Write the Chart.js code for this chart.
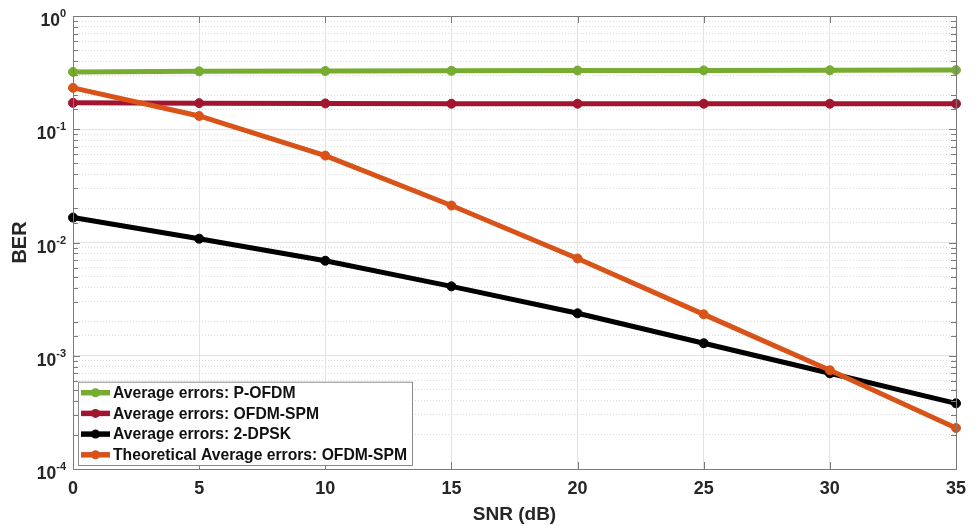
<!DOCTYPE html>
<html>
<head>
<meta charset="utf-8">
<script src="https://cdn.jsdelivr.net/npm/chart.js@4.4.1/dist/chart.umd.min.js"></script>
<style>
  html, body { margin: 0; padding: 0; background: #fff; }
  #wrap { width: 977px; height: 526px; position: relative; }
</style>
</head>
<body>
<div id="wrap"><canvas id="berChart"></canvas></div>
<script>
// values
const snrDb = [0, 5, 10, 15, 20, 25, 30, 35];
const berPOfdm = [0.321, 0.325, 0.327, 0.328, 0.330, 0.331, 0.332, 0.333];
const berOfdmSpm = [0.171, 0.170, 0.169, 0.168, 0.168, 0.168, 0.168, 0.168];
const ber2Dpsk = [0.0166, 0.0108, 0.0069, 0.0041, 0.00237, 0.00129, 0.0007, 0.00038];
const berTheory = [0.232, 0.131, 0.0585, 0.0212, 0.00723, 0.00232, 0.000745, 0.00023];

const seriesLabels = [
  "Average errors: P-OFDM",
  "Average errors: OFDM-SPM",
  "Average errors: 2-DPSK",
  "Theoretical Average errors: OFDM-SPM"
];
const decadeExponents = [0, -1, -2, -3, -4];

const FONT = "'Liberation Sans', Arial, Helvetica, sans-serif";
const AXIS_COLOR = "#7a7a7a";

function points(ys) {
  return snrDb.map((x, i) => ({ x: x, y: ys[i] }));
}

function isDecade(v) {
  const l = Math.log10(v);
  return Math.abs(l - Math.round(l)) < 1e-6;
}

function makeSet(label, ys, color, order) {
  return {
    label: label,
    data: points(ys),
    borderColor: color,
    backgroundColor: color,
    pointBackgroundColor: color,
    pointBorderColor: color,
    borderWidth: 5,
    pointRadius: 4.5,
    pointBorderWidth: 1,
    tension: 0,
    clip: false,
    order: order
  };
}

// box, inside tick marks, power-of-ten labels and legend
const matlabAxes = {
  id: "matlabAxes",
  afterDraw(chart) {
    const ctx = chart.ctx;
    const area = chart.chartArea;
    const yScale = chart.scales.y;
    const xScale = chart.scales.x;

    ctx.save();
    ctx.strokeStyle = AXIS_COLOR;
    ctx.lineWidth = 1;
    ctx.strokeRect(area.left + 0.5, area.top + 0.5, area.right - area.left, area.bottom - area.top);

    // y ticks, inside on both sides
    ctx.beginPath();
    yScale.ticks.forEach(t => {
      const py = Math.round(yScale.getPixelForValue(t.value)) + 0.5;
      const len = isDecade(t.value) ? 7 : 5;
      ctx.moveTo(area.left, py); ctx.lineTo(area.left + len, py);
      ctx.moveTo(area.right, py); ctx.lineTo(area.right - len, py);
    });
    xScale.ticks.forEach(t => {
      const px = Math.round(xScale.getPixelForValue(t.value)) + 0.5;
      ctx.moveTo(px, area.bottom); ctx.lineTo(px, area.bottom - 7);
      ctx.moveTo(px, area.top); ctx.lineTo(px, area.top + 7);
    });
    ctx.stroke();

    // 10^n labels
    ctx.fillStyle = "#262626";
    ctx.textBaseline = "alphabetic";
    decadeExponents.forEach(e => {
      const py = yScale.getPixelForValue(Math.pow(10, e));
      const exp = String(e);
      ctx.font = "bold 11px " + FONT;
      const ew = ctx.measureText(exp).width;
      ctx.font = "bold 17.5px " + FONT;
      const bw = ctx.measureText("10").width;
      const right = 66;
      ctx.textAlign = "left";
      ctx.fillText("10", right - ew - bw, py + 10);
      ctx.font = "bold 11px " + FONT;
      ctx.fillText(exp, right - ew, py + 1);
    });

    // legend in the lower left corner
    const sets = chart.data.datasets;
    const boxL = area.left + 5, boxR = 412, boxB = area.bottom - 4;
    const rowH = 20.7;
    const boxT = boxB - rowH * sets.length - 0.5;
    ctx.fillStyle = "#fff";
    ctx.fillRect(boxL, boxT, boxR - boxL, boxB - boxT);
    ctx.strokeStyle = "#8a8a8a";
    ctx.strokeRect(boxL + 0.5, boxT + 0.5, boxR - boxL, boxB - boxT);
    ctx.font = "bold 15.7px " + FONT;
    ctx.textAlign = "left";
    ctx.textBaseline = "middle";
    sets.forEach((ds, i) => {
      const cy = boxT + 11 + i * rowH;
      ctx.strokeStyle = ds.borderColor;
      ctx.lineWidth = 5.5;
      ctx.beginPath();
      ctx.moveTo(boxL + 3, cy); ctx.lineTo(boxL + 32, cy);
      ctx.stroke();
      ctx.fillStyle = ds.borderColor;
      ctx.beginPath();
      ctx.arc(boxL + 17.5, cy, 4.5, 0, Math.PI * 2);
      ctx.fill();
      ctx.fillStyle = "#111";
      ctx.fillText(ds.label, boxL + 35, cy + 1);
    });
    ctx.restore();
  }
};

const berCtx = document.getElementById("berChart").getContext("2d");

const berChart = new Chart(berCtx, {
  type: "line",
  data: {
    datasets: [
      makeSet(seriesLabels[0], berPOfdm, "#77AC30", 3),
      makeSet(seriesLabels[1], berOfdmSpm, "#A2142F", 2),
      makeSet(seriesLabels[2], ber2Dpsk, "#000000", 1),
      makeSet(seriesLabels[3], berTheory, "#D95319", 0)
    ]
  },
  options: {
    responsive: true,
    maintainAspectRatio: false,
    animation: false,
    layout: { padding: { top: 16, right: 21, left: 0, bottom: 0 } },
    plugins: {
      legend: { display: false },
      tooltip: { enabled: false }
    },
    scales: {
      x: {
        type: "linear",
        min: 0,
        max: 35,
        ticks: {
          stepSize: 5,
          padding: 9,
          color: "#262626",
          font: { family: FONT, size: 18, weight: "bold" }
        },
        grid: { color: "#e3e3e3", drawTicks: false },
        border: { display: false },
        title: {
          display: true,
          text: "SNR (dB)",
          color: "#262626",
          padding: { top: 0, bottom: 0 },
          font: { family: FONT, size: 19, weight: "bold", lineHeight: 1.2 }
        },
        afterFit: (scale) => { scale.height = 57; }
      },
      y: {
        type: "logarithmic",
        min: 0.0001,
        max: 1,
        ticks: { display: false },
        grid: {
          drawTicks: false,
          color: (c) => (c.tick && isDecade(c.tick.value) ? "#e3e3e3" : "rgba(0,0,0,0)")
        },
        border: { display: false },
        title: {
          display: true,
          text: "BER",
          color: "#262626",
          padding: { top: 8, bottom: 0 },
          font: { family: FONT, size: 20, weight: "bold", lineHeight: 1.2 }
        },
        afterFit: (scale) => { scale.width = 73; }
      },
      yMinor: {
        type: "logarithmic",
        position: "left",
        min: 0.0001,
        max: 1,
        ticks: { display: false },
        grid: {
          drawTicks: false,
          color: (c) => (c.tick && !isDecade(c.tick.value) ? "#dadada" : "rgba(0,0,0,0)")
        },
        border: { display: false, dash: [1, 2] },
        afterFit: (scale) => { scale.width = 0; }
      }
    }
  },
  plugins: [matlabAxes]
});
</script>
</body>
</html>
